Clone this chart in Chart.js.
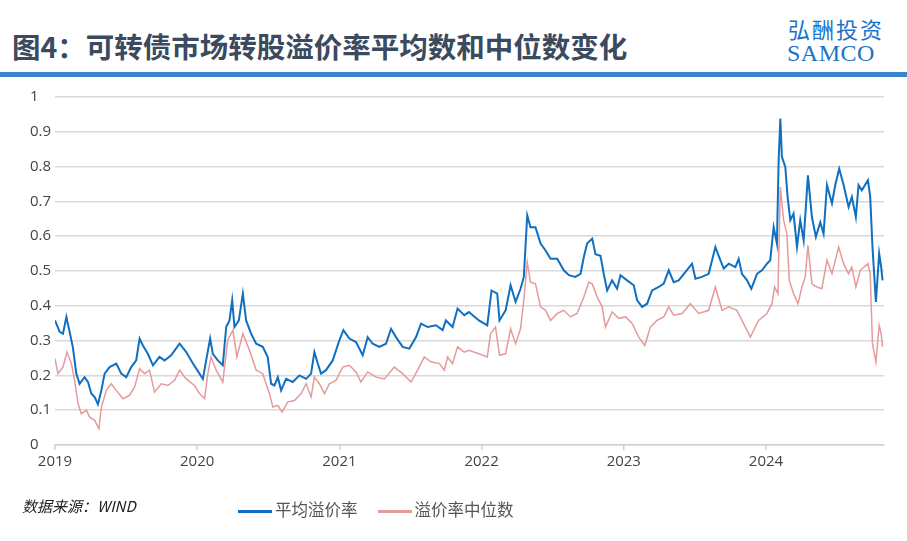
<!DOCTYPE html>
<html>
<head>
<meta charset="utf-8">
<script src="https://cdn.jsdelivr.net/npm/chart.js@4"></script>
<style>
  body { margin: 0; width: 907px; height: 541px; background: #fff; position: relative; overflow: hidden; font-family: "Noto Sans CJK SC", sans-serif; }
  #title { position: absolute; left: 12px; top: 27px; font-size: 28.5px; font-weight: bold; color: #3b4a5e; line-height: 38px; }
  #logo1 { position: absolute; left: 788px; top: 14px; font-size: 22px; color: #1a73c8; letter-spacing: 2px; line-height: 28px; }
  #logo2 { position: absolute; left: 787px; top: 40px; font-size: 24px; color: #1a73c8; font-family: "Liberation Serif", serif; letter-spacing: 0.5px; line-height: 26px; }
  #bar { position: absolute; left: 0; top: 72px; width: 907px; height: 5px; background: #3a86c8; }
  #src { position: absolute; left: 22px; top: 495px; font-size: 15px; font-style: italic; color: #222; }
  #legend { position: absolute; left: 238px; top: 497px; font-size: 16.5px; color: #555; }
  .sw { display: inline-block; width: 34px; height: 3px; vertical-align: middle; margin-right: 3px; }
  #wrap { position: absolute; left: 0; top: 64px; width: 907px; height: 477px; }
</style>
</head>
<body>
<div id="title">图4：可转债市场转股溢价率平均数和中位数变化</div>
<div id="logo1">弘酬投资</div>
<div id="logo2">SAMCO</div>
<div id="wrap"><canvas id="myChart" width="907" height="477"></canvas></div>
<div id="bar"></div>
<div id="src">数据来源：WIND</div>
<div id="legend"><span class="sw" style="background:#0f6fc0"></span>平均溢价率<span style="display:inline-block;width:20px"></span><span class="sw" style="background:#e69a9a"></span>溢价率中位数</div>
<script>
// x = 年份（小数）, y = 溢价率
const avgX = [2019.00, 2019.033, 2019.056, 2019.08, 2019.103, 2019.126, 2019.15, 2019.173, 2019.208, 2019.232, 2019.255, 2019.279, 2019.302, 2019.326, 2019.349, 2019.384, 2019.431, 2019.466, 2019.501, 2019.536, 2019.571, 2019.595, 2019.618, 2019.653, 2019.689, 2019.735, 2019.77, 2019.817, 2019.876, 2019.923, 2019.97,
  2020.016, 2020.04, 2020.063, 2020.091, 2020.11, 2020.145, 2020.18, 2020.204, 2020.227, 2020.246, 2020.262, 2020.293, 2020.321, 2020.344, 2020.379, 2020.415, 2020.461, 2020.496, 2020.52, 2020.543, 2020.567, 2020.59, 2020.625, 2020.672, 2020.719, 2020.766, 2020.801, 2020.824, 2020.848, 2020.871, 2020.906, 2020.953,
  2021.00, 2021.028, 2021.07, 2021.117, 2021.164, 2021.199, 2021.234, 2021.281, 2021.328, 2021.363, 2021.398, 2021.445, 2021.492, 2021.539, 2021.574, 2021.621, 2021.679, 2021.726, 2021.749, 2021.796, 2021.831, 2021.878, 2021.911, 2021.981,
  2022.04, 2022.07, 2022.11, 2022.126, 2022.169, 2022.204, 2022.239, 2022.274, 2022.297, 2022.321, 2022.344, 2022.379, 2022.415, 2022.45, 2022.485, 2022.532, 2022.578, 2022.614, 2022.66, 2022.696, 2022.719, 2022.742, 2022.778, 2022.801, 2022.836, 2022.859, 2022.883, 2022.918, 2022.953, 2022.977,
  2023.023, 2023.07, 2023.094, 2023.129, 2023.164, 2023.199, 2023.246, 2023.281, 2023.316, 2023.351, 2023.386, 2023.433, 2023.48, 2023.504, 2023.55, 2023.597, 2023.644, 2023.679, 2023.703, 2023.738, 2023.785, 2023.808, 2023.831, 2023.867, 2023.897, 2023.937, 2023.972,
  2024.007, 2024.03, 2024.054, 2024.077, 2024.089, 2024.101, 2024.112, 2024.136, 2024.152, 2024.171, 2024.194, 2024.218, 2024.241, 2024.265, 2024.295, 2024.323, 2024.351, 2024.382, 2024.405, 2024.429, 2024.464, 2024.487, 2024.515, 2024.546, 2024.581, 2024.604, 2024.632, 2024.651, 2024.674, 2024.717, 2024.733, 2024.749, 2024.773, 2024.796, 2024.81, 2024.82];
const avgY = [0.358, 0.325, 0.32, 0.368, 0.325, 0.28, 0.205, 0.176, 0.195, 0.181, 0.148, 0.138, 0.117, 0.157, 0.205, 0.224, 0.234, 0.205, 0.195, 0.224, 0.243, 0.306, 0.286, 0.262, 0.229, 0.253, 0.243, 0.258, 0.291, 0.267, 0.234,
  0.205, 0.19, 0.243, 0.306, 0.262, 0.243, 0.229, 0.339, 0.358, 0.416, 0.339, 0.358, 0.435, 0.358, 0.32, 0.291, 0.282, 0.253, 0.176, 0.171, 0.195, 0.157, 0.19, 0.181, 0.2, 0.19, 0.205, 0.267, 0.234, 0.205, 0.215, 0.243,
  0.301, 0.33, 0.306, 0.296, 0.258, 0.31, 0.291, 0.282, 0.291, 0.334, 0.31, 0.282, 0.277, 0.31, 0.349, 0.339, 0.344, 0.33, 0.358, 0.339, 0.392, 0.373, 0.382, 0.358,
  0.344, 0.444, 0.435, 0.358, 0.387, 0.459, 0.411, 0.449, 0.483, 0.66, 0.626, 0.626, 0.579, 0.559, 0.535, 0.535, 0.502, 0.488, 0.483, 0.492, 0.54, 0.579, 0.593, 0.548, 0.544, 0.492, 0.444, 0.473, 0.449, 0.488,
  0.473, 0.459, 0.416, 0.397, 0.406, 0.444, 0.454, 0.464, 0.502, 0.468, 0.473, 0.497, 0.521, 0.478, 0.483, 0.492, 0.569, 0.531, 0.507, 0.521, 0.511, 0.535, 0.492, 0.473, 0.449, 0.492, 0.502,
  0.521, 0.531, 0.626, 0.579, 0.818, 0.938, 0.828, 0.799, 0.713, 0.646, 0.665, 0.569, 0.646, 0.588, 0.775, 0.655, 0.598, 0.64, 0.607, 0.747, 0.694, 0.747, 0.794, 0.747, 0.684, 0.713, 0.655, 0.747, 0.732, 0.761, 0.713, 0.569, 0.411, 0.55, 0.512, 0.473];

const medX = [2019.00, 2019.021, 2019.056, 2019.084, 2019.115, 2019.138, 2019.162, 2019.185, 2019.22, 2019.244, 2019.279, 2019.309, 2019.326, 2019.361, 2019.396, 2019.431, 2019.478, 2019.525, 2019.56, 2019.595, 2019.63, 2019.665, 2019.70, 2019.747, 2019.794, 2019.841, 2019.876, 2019.923, 2019.981,
  2020.016, 2020.052, 2020.075, 2020.098, 2020.133, 2020.18, 2020.215, 2020.251, 2020.279, 2020.321, 2020.368, 2020.415, 2020.461, 2020.508, 2020.532, 2020.567, 2020.597, 2020.637, 2020.684, 2020.731, 2020.766, 2020.801, 2020.824, 2020.859, 2020.895, 2020.93, 2020.977,
  2021.023, 2021.07, 2021.117, 2021.152, 2021.199, 2021.258, 2021.316, 2021.386, 2021.445, 2021.504, 2021.55, 2021.597, 2021.644, 2021.703, 2021.738, 2021.761, 2021.796, 2021.831, 2021.878, 2021.911, 2021.981,
  2022.04, 2022.063, 2022.098, 2022.126, 2022.169, 2022.204, 2022.239, 2022.274, 2022.297, 2022.321, 2022.344, 2022.379, 2022.415, 2022.45, 2022.485, 2022.532, 2022.578, 2022.625, 2022.672, 2022.719, 2022.754, 2022.778, 2022.813, 2022.848, 2022.871, 2022.918, 2022.965,
  2023.012, 2023.059, 2023.105, 2023.148, 2023.187, 2023.234, 2023.281, 2023.316, 2023.351, 2023.41, 2023.468, 2023.527, 2023.597, 2023.644, 2023.691, 2023.738, 2023.796, 2023.831, 2023.89, 2023.948,
  2024.007, 2024.042, 2024.061, 2024.084, 2024.101, 2024.124, 2024.147, 2024.164, 2024.194, 2024.225, 2024.253, 2024.276, 2024.295, 2024.323, 2024.358, 2024.393, 2024.429, 2024.464, 2024.511, 2024.546, 2024.581, 2024.604, 2024.632, 2024.663, 2024.717, 2024.733, 2024.749, 2024.773, 2024.796, 2024.81, 2024.82];
const medY = [0.248, 0.205, 0.224, 0.267, 0.234, 0.186, 0.119, 0.09, 0.1, 0.08, 0.071, 0.047, 0.109, 0.157, 0.176, 0.157, 0.133, 0.143, 0.167, 0.219, 0.205, 0.215, 0.152, 0.176, 0.171, 0.186, 0.215, 0.19, 0.171,
  0.148, 0.133, 0.205, 0.253, 0.215, 0.181, 0.301, 0.33, 0.253, 0.32, 0.272, 0.215, 0.205, 0.148, 0.109, 0.114, 0.095, 0.124, 0.128, 0.148, 0.176, 0.138, 0.195, 0.176, 0.148, 0.176, 0.186,
  0.224, 0.229, 0.21, 0.181, 0.21, 0.195, 0.19, 0.224, 0.205, 0.181, 0.215, 0.253, 0.239, 0.234, 0.215, 0.253, 0.234, 0.282, 0.267, 0.272, 0.262,
  0.253, 0.32, 0.339, 0.258, 0.262, 0.334, 0.291, 0.334, 0.416, 0.526, 0.468, 0.463, 0.397, 0.387, 0.358, 0.378, 0.387, 0.368, 0.378, 0.425, 0.468, 0.463, 0.425, 0.397, 0.339, 0.382, 0.364,
  0.368, 0.349, 0.31, 0.286, 0.339, 0.358, 0.368, 0.397, 0.373, 0.378, 0.406, 0.378, 0.387, 0.454, 0.387, 0.397, 0.387, 0.358, 0.31, 0.358,
  0.378, 0.406, 0.454, 0.435, 0.741, 0.646, 0.607, 0.473, 0.435, 0.406, 0.454, 0.483, 0.574, 0.463, 0.454, 0.449, 0.531, 0.492, 0.569, 0.521, 0.492, 0.511, 0.454, 0.502, 0.521, 0.492, 0.291, 0.238, 0.344, 0.32, 0.282];

const toPts = (xs, ys) => xs.map((x, i) => ({ x: x, y: ys[i] }));

Chart.defaults.font.family = "Open Sans";
Chart.defaults.font.size = 15;

const ctx = document.getElementById("myChart").getContext("2d");
const myChart = new Chart(ctx, {
  type: "line",
  data: {
    datasets: [
      { label: "溢价率中位数", data: toPts(medX, medY), borderColor: "#e69a9a", borderWidth: 1.5, pointRadius: 0, tension: 0 },
      { label: "平均溢价率", data: toPts(avgX, avgY), borderColor: "#0f6fc0", borderWidth: 2, pointRadius: 0, tension: 0 },
    ],
  },
  options: {
    animation: false,
    responsive: false,
    devicePixelRatio: 1,
    layout: { padding: { left: 30, right: 23, top: 33, bottom: 69 } },
    plugins: { legend: { display: false }, tooltip: { enabled: false } },
    scales: {
      x: {
        type: "linear", min: 2019, max: 2024.83,
        afterBuildTicks: (s) => { s.ticks = [2019, 2020, 2021, 2022, 2023, 2024].map((v) => ({ value: v })); },
        afterFit: (s) => { s.height = 27; },
        ticks: { callback: (v) => String(v), color: "#444", padding: 3, maxRotation: 0 },
        grid: { drawOnChartArea: false, color: "#d0d0d0", tickLength: 5, lineWidth: 1.5 },
        border: { color: "#d0d0d0", width: 1.5 },
      },
      y: {
        min: 0, max: 1,
        afterFit: (s) => { s.width = 25; },
        ticks: { stepSize: 0.1, color: "#444", crossAlign: "far", padding: 4,
          callback: (v) => String(Math.round(v * 10) / 10) },
        grid: { color: "#d9d9d9", lineWidth: 1.5, drawTicks: false },
        border: { display: false },
      },
    },
  },
});
</script>
</body>
</html>
